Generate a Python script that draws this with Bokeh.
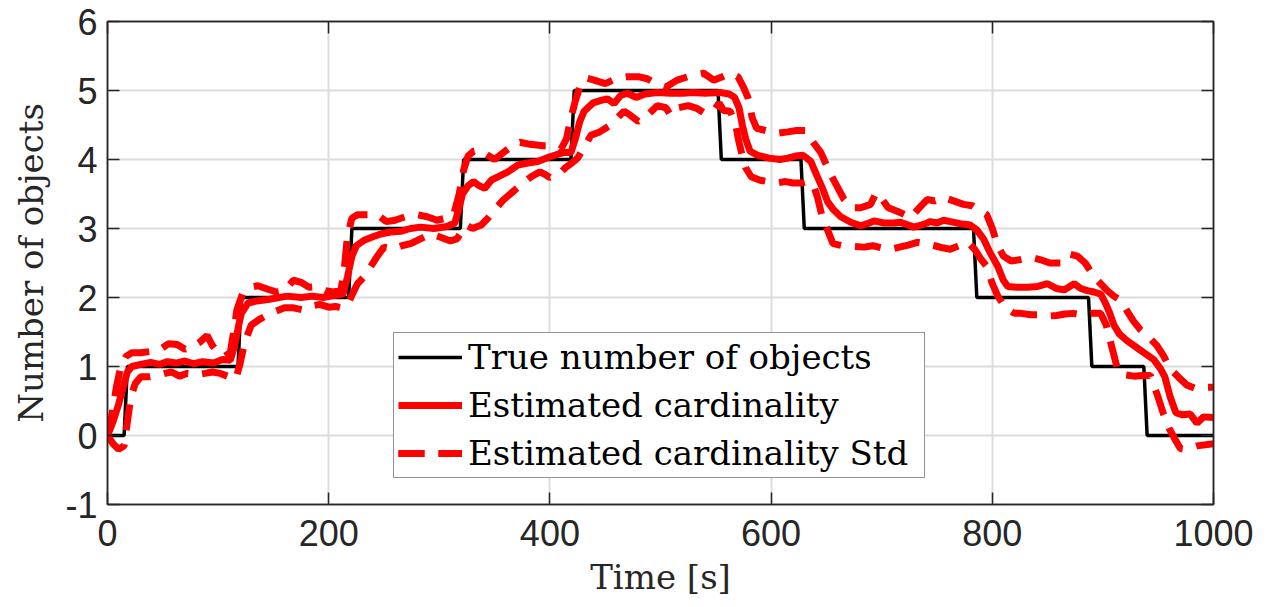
from bokeh.plotting import figure
from bokeh.models import LinearAxis, FixedTicker, Range1d, Legend, LegendItem
from bokeh.embed import file_html
from bokeh.resources import INLINE

# ---------------- data ----------------
t_true = [0, 15, 18, 118, 121, 218, 221, 319, 322, 419, 422, 552, 555, 627, 630, 783, 786, 887, 890, 937, 940, 1000]
n_true = [0, 0, 1, 1, 2, 2, 3, 3, 4, 4, 5, 5, 4, 4, 3, 3, 2, 2, 1, 1, 0, 0]

t_mean = [0, 5, 10, 15, 18, 22, 30, 39, 47, 54, 62, 70, 78, 86, 96, 104, 111, 115, 118, 121, 127, 135, 145, 155,
          163, 175, 185, 195, 205, 213, 217, 221, 225, 232, 240, 247, 256, 265, 274, 283, 295, 307, 314, 318, 321,
          326, 331, 336, 341, 347, 352, 362, 371, 380, 389, 400, 412, 419, 423, 427, 431, 439, 447, 452, 458, 464,
          470, 478, 486, 497, 509, 520, 530, 540, 554, 562, 567, 571, 574, 577, 581, 588, 598, 608, 615, 622, 629,
          636, 641, 646, 651, 656, 663, 672, 681, 687, 693, 702, 711, 717, 724, 729, 738, 744, 750, 756, 762, 771,
          780, 786, 792, 798, 805, 810, 814, 822, 832, 841, 850, 858, 865, 870, 874, 880, 886, 892, 898, 902, 906,
          910, 915, 922, 930, 937, 946, 952, 956, 961, 966, 972, 979, 985, 991, 1000]
y_mean = [0, 0.2, 0.45, 0.75, 0.92, 1.0, 1.03, 1.06, 1.03, 1.07, 1.05, 1.08, 1.04, 1.07, 1.05, 1.1, 1.09, 1.3, 1.55,
          1.77, 1.92, 1.95, 1.97, 2.0, 2.02, 2.0, 2.02, 2.0, 2.03, 2.05, 2.3, 2.6, 2.75, 2.83, 2.88, 2.92, 2.95, 2.96,
          3.0, 3.02, 3.0, 3.03, 3.08, 3.3, 3.5, 3.62, 3.68, 3.62, 3.58, 3.7, 3.74, 3.82, 3.92, 3.95, 3.97, 4.04, 4.1,
          4.1, 4.3, 4.55, 4.7, 4.82, 4.86, 4.88, 4.81, 4.93, 4.96, 4.9, 4.95, 4.97, 4.96, 4.96, 4.97, 4.96, 4.97,
          4.95, 4.9, 4.75, 4.5, 4.3, 4.12, 4.06, 4.02, 4.0, 4.02, 4.05, 4.06, 3.97, 3.78, 3.6, 3.39, 3.28, 3.17,
          3.09, 3.04, 3.07, 3.11, 3.08, 3.08, 3.09, 3.05, 3.02, 3.06, 3.1, 3.08, 3.12, 3.1, 3.07, 3.05, 2.98, 2.85,
          2.65, 2.45, 2.25, 2.16, 2.15, 2.15, 2.16, 2.2, 2.13, 2.11, 2.16, 2.2, 2.13, 2.1, 2.08, 2.05, 1.93, 1.78,
          1.6, 1.47, 1.37, 1.28, 1.2, 1.1, 0.97, 0.85, 0.55, 0.33, 0.3, 0.31, 0.18, 0.27, 0.26]

t_upper = [0, 4, 8, 12, 17, 22, 30, 40, 48, 55, 63, 70, 78, 84, 90, 95, 100, 106, 111, 114, 117, 122, 130, 136, 145,
           153, 160, 168, 175, 182, 190, 197, 204, 211, 214, 217, 221, 226, 235, 244, 252, 260, 271, 280, 289, 298,
           306, 313, 318, 322, 326, 331, 337, 343, 350, 358, 366, 373, 382, 394, 403, 410, 415, 419, 423, 428, 433,
           440, 450, 461, 470, 480, 488, 496, 505, 515, 525, 539, 548, 556, 563, 570, 575, 579, 583, 587, 595, 605,
           615, 623, 631, 638, 645, 654, 660, 666, 673, 681, 690, 695, 699, 706, 714, 721, 726, 734, 741, 748, 756,
           765, 774, 782, 790, 795, 800, 805, 810, 817, 826, 835, 843, 852, 862, 870, 877, 884, 892, 898, 904, 910,
           916, 922, 928, 934, 942, 949, 955, 961, 968, 976, 984, 991, 1000]
y_upper = [0, 0.3, 0.7, 1.0, 1.15, 1.2, 1.2, 1.22, 1.25, 1.33, 1.32, 1.25, 1.3, 1.36, 1.45, 1.3, 1.2, 1.15, 1.2, 1.5,
           1.82, 2.05, 2.15, 2.17, 2.12, 2.08, 2.1, 2.25, 2.22, 2.15, 2.16, 2.1, 2.08, 2.1, 2.4, 2.9, 3.15, 3.2, 3.2,
           3.2, 3.1, 3.12, 3.18, 3.2, 3.17, 3.12, 3.15, 3.2, 3.5, 3.85, 4.05, 4.12, 4.14, 4.07, 4.0, 4.1, 4.2, 4.25,
           4.22, 4.2, 4.2, 4.15, 4.3, 4.6, 4.85, 5.1, 5.18, 5.15, 5.1, 5.18, 5.2, 5.2, 5.17, 5.1, 5.05, 5.15, 5.2,
           5.25, 5.15, 5.2, 5.25, 5.2, 5.05, 4.9, 4.6, 4.45, 4.42, 4.38, 4.4, 4.42, 4.42, 4.25, 4.1, 3.78, 3.6, 3.42,
           3.3, 3.3, 3.35, 3.52, 3.45, 3.3, 3.25, 3.2, 3.16, 3.3, 3.42, 3.4, 3.45, 3.4, 3.35, 3.33, 3.25, 3.2, 3.0,
           2.75, 2.6, 2.53, 2.55, 2.58, 2.55, 2.5, 2.5, 2.63, 2.6, 2.5, 2.3, 2.2, 2.1, 2.02, 1.96, 1.8, 1.65, 1.53,
           1.42, 1.3, 1.15, 0.96, 0.85, 0.73, 0.68, 0.7, 0.7]

t_lower = [0, 5, 10, 15, 18, 21, 25, 30, 38, 45, 52, 58, 65, 72, 80, 88, 95, 102, 110, 116, 120, 124, 130, 137, 145,
           152, 160, 168, 177, 185, 192, 200, 206, 212, 216, 220, 226, 232, 238, 244, 250, 258, 266, 274, 283, 292,
           300, 310, 316, 320, 324, 330, 338, 344, 349, 357, 367, 375, 383, 391, 396, 400, 408, 414, 420, 425, 430,
           437, 445, 455, 462, 467, 472, 480, 487, 497, 505, 509, 516, 525, 533, 539, 548, 553, 557, 563, 568, 571,
           574, 577, 582, 590, 597, 605, 613, 620, 628, 633, 638, 642, 646, 651, 656, 665, 675, 684, 692, 700, 708,
           716, 724, 732, 740, 748, 755, 762, 770, 778, 784, 790, 795, 800, 805, 812, 820, 826, 835, 843, 850, 858,
           866, 873, 880, 890, 898, 903, 907, 911, 914, 920, 928, 936, 943, 950, 955, 960, 965, 970, 975, 985, 1000]
y_lower = [0, -0.12, -0.2, -0.15, 0.2, 0.55, 0.75, 0.85, 0.85, 0.87, 0.9, 0.92, 0.86, 0.9, 0.88, 0.9, 0.92, 0.9, 0.85,
           0.82, 1.05, 1.35, 1.6, 1.68, 1.75, 1.8, 1.85, 1.85, 1.82, 1.88, 1.9, 1.86, 1.87, 1.85, 1.87, 2.0, 2.2, 2.3,
           2.45, 2.6, 2.73, 2.7, 2.75, 2.78, 2.85, 2.92, 2.88, 2.82, 2.85, 2.95, 3.05, 3.0, 3.05, 3.15, 3.25, 3.4,
           3.54, 3.65, 3.75, 3.82, 3.78, 3.74, 3.78, 3.88, 3.95, 4.02, 4.15, 4.35, 4.4, 4.5, 4.62, 4.7, 4.65, 4.55,
           4.62, 4.78, 4.75, 4.64, 4.75, 4.78, 4.74, 4.68, 4.7, 4.82, 4.71, 4.7, 4.5, 4.25, 4.05, 3.88, 3.75, 3.7,
           3.68, 3.66, 3.68, 3.66, 3.66, 3.68, 3.64, 3.45, 3.18, 2.98, 2.78, 2.75, 2.74, 2.73, 2.75, 2.72, 2.7, 2.73,
           2.76, 2.8, 2.78, 2.75, 2.72, 2.7, 2.75, 2.8, 2.7, 2.55, 2.45, 2.2, 2.02, 1.85, 1.77, 1.77, 1.75, 1.75,
           1.73, 1.74, 1.76, 1.77, 1.75, 1.77, 1.77, 1.6, 1.35, 1.1, 0.92, 0.88, 0.86, 0.87, 0.87, 0.55, 0.3, 0.1,
           -0.05, -0.19, -0.2, -0.15, -0.12]

x_ticks = [0, 200, 400, 600, 800, 1000]
y_ticks = [-1, 0, 1, 2, 3, 4, 5, 6]
y_tick_labels = ["-1", "0", "1", "2", "3", "4", "5", "6"]
labels = ["True number of objects", "Estimated cardinality", "Estimated cardinality Std"]

# ---------------- figure ----------------
AX = "#262626"
SANS = "Liberation Sans"
SERIF = "DejaVu Serif"

p = figure(width=1270, height=607, output_backend="svg", toolbar_location=None,
           x_range=Range1d(0, 1000), y_range=Range1d(-1, 6),
           min_border_left=107, min_border_right=57, min_border_top=21, min_border_bottom=103,
           x_axis_label="Time [s]", y_axis_label="Number of objects")
p.background_fill_color = "white"
p.border_fill_color = "white"
p.outline_line_color = AX
p.outline_line_width = 1.5

for ax in (p.xaxis[0], p.yaxis[0]):
    ax.major_tick_in = 12
    ax.major_tick_out = 0
    ax.minor_tick_in = 0
    ax.minor_tick_out = 0
    ax.axis_line_color = AX
    ax.axis_line_width = 1.5
    ax.major_tick_line_color = AX
    ax.major_tick_line_width = 1.5
    ax.major_label_text_font = SANS
    ax.major_label_text_font_size = "36px"
    ax.major_label_text_color = "#262626"
    ax.axis_label_text_font = SERIF
    ax.axis_label_text_font_size = "34px"
    ax.axis_label_text_font_style = "normal"
    ax.axis_label_text_color = "#262626"
p.xaxis[0].ticker = FixedTicker(ticks=x_ticks)
p.yaxis[0].ticker = FixedTicker(ticks=y_ticks)
p.yaxis[0].major_label_overrides = {t: s for t, s in zip(y_ticks, y_tick_labels)}
p.xaxis[0].major_label_standoff = 15
p.yaxis[0].major_label_standoff = 10
p.xaxis[0].axis_label_standoff = 8
p.yaxis[0].axis_label_standoff = 11

# box axes with inward ticks
for loc, tick in (("right", y_ticks), ("above", x_ticks)):
    a = LinearAxis(ticker=FixedTicker(ticks=tick))
    a.major_tick_in = 12
    a.major_tick_out = 0
    a.minor_tick_in = 0
    a.minor_tick_out = 0
    a.axis_line_color = AX
    a.axis_line_width = 1.5
    a.major_tick_line_color = AX
    a.major_tick_line_width = 1.5
    a.major_label_text_font_size = "0px"
    a.major_label_text_color = None
    a.major_label_standoff = 0
    p.add_layout(a, loc)

p.xgrid.ticker = FixedTicker(ticks=x_ticks)
p.ygrid.ticker = FixedTicker(ticks=y_ticks)
p.grid.grid_line_color = "#dcdcdc"
p.grid.grid_line_width = 2

r_true = p.line(t_true, n_true, line_color="black", line_width=3.5)
r_mean = p.line(t_mean, y_mean, line_color="#ff0000", line_width=7)
r_up = p.line(t_upper, y_upper, line_color="#ff0000", line_width=7, line_dash="26 14")
r_lo = p.line(t_lower, y_lower, line_color="#ff0000", line_width=7, line_dash="26 14")

legend = Legend(items=[LegendItem(label=labels[0], renderers=[r_true]),
                       LegendItem(label=labels[1], renderers=[r_mean]),
                       LegendItem(label=labels[2], renderers=[r_up, r_lo])],
                location=(286, 26))
legend.label_text_font = SERIF
legend.label_text_font_size = "34px"
legend.label_text_color = "black"
legend.glyph_width = 64
legend.glyph_height = 36
legend.label_height = 36
legend.label_width = 452
legend.label_standoff = 6
legend.spacing = 8
legend.padding = 4
legend.margin = 0
legend.border_line_color = AX
legend.border_line_width = 1.5
legend.background_fill_color = "white"
legend.background_fill_alpha = 1.0
p.add_layout(legend, "center")

open("out.html", "w").write(file_html(p, INLINE))
